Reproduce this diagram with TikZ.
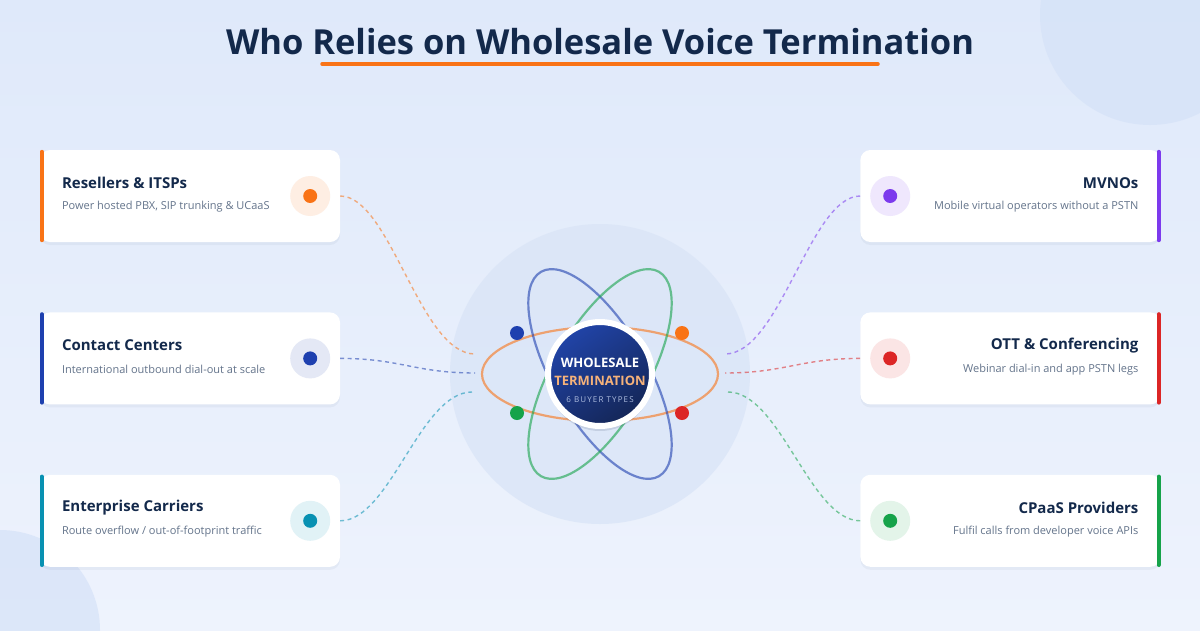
\documentclass[tikz,border=0pt]{standalone}
\usepackage{fontspec}
\setmainfont{Open Sans}
\usepackage{tikz}
\usetikzlibrary{positioning,shadows}
\definecolor{navy}{HTML}{13294B}
\definecolor{slate}{HTML}{64748B}
\definecolor{bgA}{HTML}{DFE9FA}
\definecolor{bgB}{HTML}{EEF3FD}
\definecolor{blobC}{HTML}{D5E2F8}
\definecolor{hubHalo}{HTML}{DAE5F7}
\definecolor{cOrange}{HTML}{F97316}
\definecolor{cBlue}{HTML}{1E40AF}
\definecolor{cTeal}{HTML}{0891B2}
\definecolor{cPurple}{HTML}{7C3AED}
\definecolor{cRed}{HTML}{DC2626}
\definecolor{cGreen}{HTML}{16A34A}
\definecolor{discTop}{HTML}{2144A8}
\definecolor{discBot}{HTML}{142657}
\definecolor{peach}{HTML}{F6B27A}
\definecolor{mist}{HTML}{AEBDE0}

\begin{document}
\begin{tikzpicture}[x=1pt,y=-1pt,node distance=70pt and 520pt,
  card/.style={fill=white,rounded corners=10pt,minimum width=300pt,minimum height=92pt,
    drop shadow={shadow xshift=0pt,shadow yshift=-3pt,opacity=.045,fill=navy}},
  accent/.style={line width=4pt,line cap=round,draw=#1},
  iconbg/.style={circle,minimum size=40pt,inner sep=0pt,fill=#1!12},
  icondot/.style={circle,minimum size=14pt,inner sep=0pt,fill=#1},
  cardtitle/.style={font=\fontsize{15}{18}\selectfont\bfseries,text=navy,inner sep=0pt},
  cardsub/.style={font=\fontsize{11}{14}\selectfont,text=slate,inner sep=0pt},
  link/.style={draw=#1,opacity=.55,line width=1.4pt,dash pattern=on 4pt off 3.5pt},
  orbit/.style={draw=#1,opacity=.6,line width=2.2pt},
  orbdot/.style={circle,minimum size=14pt,inner sep=0pt,fill=#1}]
  \useasboundingbox (0,0) rectangle (1200,630);
  % background
  \shade[left color=bgA,right color=bgB,shading angle=0] (0,0) rectangle (1200,630);
  \fill[blobC,opacity=.7] (1150,15) circle [radius=110];
  \fill[blobC,opacity=.7] (0,630) circle [radius=100];

  % title
  \node[font=\fontsize{34.5}{40}\selectfont\bfseries,text=navy] (title) at (600,42)
    {Who Relies on Wholesale Voice Termination};
  \draw[cOrange,line width=3.5pt,line cap=round] (322,64) -- (878,64);

  % cards
  \node[card] (resellers) at (190,196) {};
  \node[card] (contact) [below=of resellers] {};
  \node[card] (enterprise) [below=of contact] {};
  \node[card] (mvnos) [right=of resellers] {};
  \node[card] (ott) [right=of contact] {};
  \node[card] (cpaas) [right=of enterprise] {};

  \draw[accent=cOrange] ([shift={(2,2)}]resellers.north west) -- ([shift={(2,-2)}]resellers.south west);
  \draw[accent=cBlue] ([shift={(2,2)}]contact.north west) -- ([shift={(2,-2)}]contact.south west);
  \draw[accent=cTeal] ([shift={(2,2)}]enterprise.north west) -- ([shift={(2,-2)}]enterprise.south west);
  \draw[accent=cPurple] ([shift={(-2,2)}]mvnos.north east) -- ([shift={(-2,-2)}]mvnos.south east);
  \draw[accent=cRed] ([shift={(-2,2)}]ott.north east) -- ([shift={(-2,-2)}]ott.south east);
  \draw[accent=cGreen] ([shift={(-2,2)}]cpaas.north east) -- ([shift={(-2,-2)}]cpaas.south east);

  % card texts
  \node[cardtitle,anchor=west] (resellersTitle) at ([shift={(22,-13)}]resellers.west) {Resellers \& ITSPs};
  \node[cardsub,anchor=west] (resellersSub) at ([shift={(22,11)}]resellers.west) {Power hosted PBX, SIP trunking \& UCaaS};
  \node[cardtitle,anchor=west] (contactTitle) at ([shift={(22,-13)}]contact.west) {Contact Centers};
  \node[cardsub,anchor=west] (contactSub) at ([shift={(22,11)}]contact.west) {International outbound dial-out at scale};
  \node[cardtitle,anchor=west] (enterpriseTitle) at ([shift={(22,-13)}]enterprise.west) {Enterprise Carriers};
  \node[cardsub,anchor=west] (enterpriseSub) at ([shift={(22,11)}]enterprise.west) {Route overflow / out-of-footprint traffic};
  \node[cardtitle,anchor=east] (mvnosTitle) at ([shift={(-22,-13)}]mvnos.east) {MVNOs};
  \node[cardsub,anchor=east] (mvnosSub) at ([shift={(-22,11)}]mvnos.east) {Mobile virtual operators without a PSTN};
  \node[cardtitle,anchor=east] (ottTitle) at ([shift={(-22,-13)}]ott.east) {OTT \& Conferencing};
  \node[cardsub,anchor=east] (ottSub) at ([shift={(-22,11)}]ott.east) {Webinar dial-in and app PSTN legs};
  \node[cardtitle,anchor=east] (cpaasTitle) at ([shift={(-22,-13)}]cpaas.east) {CPaaS Providers};
  \node[cardsub,anchor=east] (cpaasSub) at ([shift={(-22,11)}]cpaas.east) {Fulfil calls from developer voice APIs};

  % icons
  \node[iconbg=cOrange] (resellersIcon) at ([xshift=-30pt]resellers.east) {};
  \node[icondot=cOrange] at (resellersIcon) {};
  \node[iconbg=cBlue] (contactIcon) at ([xshift=-30pt]contact.east) {};
  \node[icondot=cBlue] at (contactIcon) {};
  \node[iconbg=cTeal] (enterpriseIcon) at ([xshift=-30pt]enterprise.east) {};
  \node[icondot=cTeal] at (enterpriseIcon) {};
  \node[iconbg=cPurple] (mvnosIcon) at ([xshift=30pt]mvnos.west) {};
  \node[icondot=cPurple] at (mvnosIcon) {};
  \node[iconbg=cRed] (ottIcon) at ([xshift=30pt]ott.west) {};
  \node[icondot=cRed] at (ottIcon) {};
  \node[iconbg=cGreen] (cpaasIcon) at ([xshift=30pt]cpaas.west) {};
  \node[icondot=cGreen] at (cpaasIcon) {};

  % hub
  \fill[hubHalo,opacity=.8] (600,374) circle [radius=150];
  \coordinate (orbitL1) at (475,354);
  \coordinate (orbitL2) at (475,373);
  \coordinate (orbitL3) at (472,392);
  \coordinate (orbitR1) at (725,354);
  \coordinate (orbitR2) at (725,373);
  \coordinate (orbitR3) at (728,392);

  \draw[link=cOrange] (resellers.east) .. controls +(50,0) and +(-55,0) .. (orbitL1);
  \draw[link=cBlue] (contact.east) .. controls +(60,0) and +(-60,0) .. (orbitL2);
  \draw[link=cTeal] (enterprise.east) .. controls +(50,0) and +(-52,0) .. (orbitL3);
  \draw[link=cPurple] (mvnos.west) .. controls +(-50,0) and +(55,0) .. (orbitR1);
  \draw[link=cRed] (ott.west) .. controls +(-60,0) and +(60,0) .. (orbitR2);
  \draw[link=cGreen] (cpaas.west) .. controls +(-50,0) and +(52,0) .. (orbitR3);

  \draw[orbit=cOrange] (600,374) ellipse [x radius=118, y radius=47];
  \draw[orbit=cBlue,rotate around={-60:(600,374)}] (600,374) ellipse [x radius=118, y radius=47];
  \draw[orbit=cGreen,rotate around={60:(600,374)}] (600,374) ellipse [x radius=118, y radius=47];

  \node[orbdot=cBlue] (dotBlue) at (517,333) {};
  \node[orbdot=cOrange] (dotOrange) at (682,333) {};
  \node[orbdot=cGreen] (dotGreen) at (517,413) {};
  \node[orbdot=cRed] (dotRed) at (682,413) {};

  \node[circle,minimum size=104pt,inner sep=0pt,draw=white,line width=6pt,
    top color=discTop,bottom color=discBot,shading angle=35,
    drop shadow={shadow xshift=0pt,shadow yshift=-5pt,opacity=.12,fill=navy}] (hub) at (600,374) {};
  \node[font=\fontsize{13}{16}\selectfont\bfseries,text=white] (hubTop) at (600,363) {WHOLESALE};
  \node[font=\fontsize{13}{16}\selectfont\bfseries,text=peach] (hubMid) at (600,381) {TERMINATION};
  \node[font=\fontsize{8}{9}\selectfont\addfontfeatures{LetterSpace=14},text=mist] (hubLow) at (600,400) {6 BUYER TYPES};
\end{tikzpicture}
\end{document}
